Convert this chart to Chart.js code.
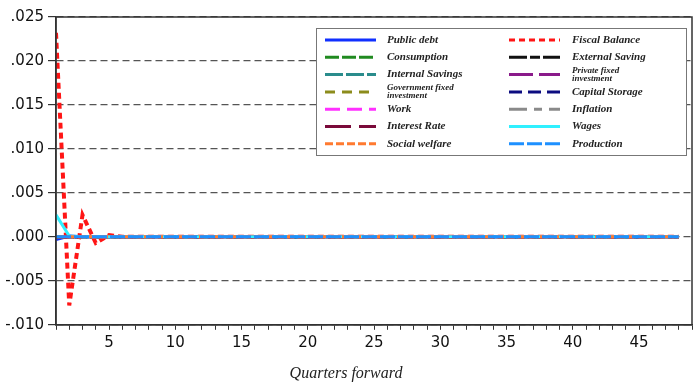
<!DOCTYPE html>
<html>
<head>
<meta charset="utf-8">
<script src="https://cdn.jsdelivr.net/npm/chart.js@4.4.0/dist/chart.umd.min.js"></script>
<style>
html, body { margin: 0; padding: 0; background: #fff; }
</style>
</head>
<body>
<canvas id="chart" width="696" height="388"></canvas>
<script>
const quarters = [1,2,3,4,5,6,7,8,9,10,11,12,13,14,15,16,17,18,19,20,21,22,23,24,
    25,26,27,28,29,30,31,32,33,34,35,36,37,38,39,40,41,42,43,44,45,46,47,48]

const publicDebt = [-0.0003,0.0001,0,0,0,0,0,0,0,0,0,0,0,0,0,0,0,0,0,0,0,0,0,0,
    0,0,0,0,0,0,0,0,0,0,0,0,0,0,0,0,0,0,0,0,0,0,0,0]
const consumption = [0,0,0,0,0,0,0,0,0,0,0,0,0,0,0,0,0,0,0,0,0,0,0,0,
    0,0,0,0,0,0,0,0,0,0,0,0,0,0,0,0,0,0,0,0,0,0,0,0]
const internalSavings = [0,0,0,0,0,0,0,0,0,0,0,0,0,0,0,0,0,0,0,0,0,0,0,0,
    0,0,0,0,0,0,0,0,0,0,0,0,0,0,0,0,0,0,0,0,0,0,0,0]
const govInvestment = [0,0,0,0,0,0,0,0,0,0,0,0,0,0,0,0,0,0,0,0,0,0,0,0,
    0,0,0,0,0,0,0,0,0,0,0,0,0,0,0,0,0,0,0,0,0,0,0,0]
const work = [0,0,0,0,0,0,0,0,0,0,0,0,0,0,0,0,0,0,0,0,0,0,0,0,
    0,0,0,0,0,0,0,0,0,0,0,0,0,0,0,0,0,0,0,0,0,0,0,0]
const interestRate = [0,0,0,0,0,0,0,0,0,0,0,0,0,0,0,0,0,0,0,0,0,0,0,0,
    0,0,0,0,0,0,0,0,0,0,0,0,0,0,0,0,0,0,0,0,0,0,0,0]
const socialWelfare = [0,0,0,0,0,0,0,0,0,0,0,0,0,0,0,0,0,0,0,0,0,0,0,0,
    0,0,0,0,0,0,0,0,0,0,0,0,0,0,0,0,0,0,0,0,0,0,0,0]
const fiscalBalance = [0.0232,-0.0078,0.0025,-0.0007,0.0002,0,0,0,0,0,0,0,0,0,0,0,0,0,0,0,0,0,0,0,
    0,0,0,0,0,0,0,0,0,0,0,0,0,0,0,0,0,0,0,0,0,0,0,0]
const externalSaving = [0,0,0,0,0,0,0,0,0,0,0,0,0,0,0,0,0,0,0,0,0,0,0,0,
    0,0,0,0,0,0,0,0,0,0,0,0,0,0,0,0,0,0,0,0,0,0,0,0]
const privateInvestment = [0,0,0,0,0,0,0,0,0,0,0,0,0,0,0,0,0,0,0,0,0,0,0,0,
    0,0,0,0,0,0,0,0,0,0,0,0,0,0,0,0,0,0,0,0,0,0,0,0]
const capitalStorage = [0,0,0,0,0,0,0,0,0,0,0,0,0,0,0,0,0,0,0,0,0,0,0,0,
    0,0,0,0,0,0,0,0,0,0,0,0,0,0,0,0,0,0,0,0,0,0,0,0]
const inflation = [0,0,0,0,0,0,0,0,0,0,0,0,0,0,0,0,0,0,0,0,0,0,0,0,
    0,0,0,0,0,0,0,0,0,0,0,0,0,0,0,0,0,0,0,0,0,0,0,0]
const wages = [0.0025,0.0001,0,0,0,0,0,0,0,0,0,0,0,0,0,0,0,0,0,0,0,0,0,0,
    0,0,0,0,0,0,0,0,0,0,0,0,0,0,0,0,0,0,0,0,0,0,0,0]
const production = [0,0,0,0,0,0,0,0,0,0,0,0,0,0,0,0,0,0,0,0,0,0,0,0,
    0,0,0,0,0,0,0,0,0,0,0,0,0,0,0,0,0,0,0,0,0,0,0,0]

function series(label, data, color, dash, width, order) {
    return {
        label: label,
        data: data,
        borderColor: color,
        backgroundColor: color,
        borderDash: dash,
        borderWidth: width,
        pointRadius: 0,
        tension: 0,
        fill: false,
        order: order
    }
}

// first 7 go in the left legend column, the rest in the right one
const datasets = [
    series("Public debt", publicDebt, "#1030ff", [], 3, 13),
    series("Consumption", consumption, "#208a20", [14, 3], 3, 12),
    series("Internal Savings", internalSavings, "#2a8c8c", [18, 3], 3, 11),
    series("Government fixed investment", govInvestment, "#8c8c1c", [10, 7], 3, 10),
    series("Work", work, "#ff30ff", [15, 7], 3, 9),
    series("Interest Rate", interestRate, "#7a0a3a", [26, 8], 3, 8),
    series("Social welfare", socialWelfare, "#ff7a30", [8, 3], 3, 1),
    series("Fiscal Balance", fiscalBalance, "#ff1515", [6, 4], 4, 3),
    series("External Saving", externalSaving, "#111111", [18, 3, 10, 3], 3, 7),
    series("Private fixed investment", privateInvestment, "#8a1a8a", [24, 6], 3, 6),
    series("Capital Storage", capitalStorage, "#0c0c80", [13, 6], 3, 5),
    series("Inflation", inflation, "#8a8a8a", [18, 7, 8, 7], 3, 4),
    series("Wages", wages, "#30f0ff", [], 3, 2),
    series("Production", production, "#1e90ff", [15, 3], 3, 0)
]

function formatTick(v) {
    let s = Number(v).toFixed(3)
    return s.replace("0.", ".")
}

const frameAndLegend = {
    id: "frameAndLegend",
    afterDraw(chart) {
        const ctx = chart.ctx
        const a = chart.chartArea
        ctx.save()
        ctx.setLineDash([])
        ctx.strokeStyle = "#333"
        ctx.lineWidth = 1.5
        ctx.strokeRect(a.left, a.top, a.right - a.left, a.bottom - a.top)

        ctx.fillStyle = "#fff"
        ctx.fillRect(316, 28, 370, 127)
        ctx.strokeStyle = "#777"
        ctx.lineWidth = 1
        ctx.strokeRect(316.5, 28.5, 370, 127)

        chart.data.datasets.forEach((ds, i) => {
            const col = i < 7 ? 0 : 1
            const row = i % 7
            const y = 40 + row * 17.3
            const x0 = col ? 509 : 325
            ctx.beginPath()
            ctx.setLineDash(ds.borderDash)
            ctx.strokeStyle = ds.borderColor
            ctx.lineWidth = 3
            ctx.moveTo(x0, y)
            ctx.lineTo(x0 + 51, y)
            ctx.stroke()

            ctx.fillStyle = "#222"
            ctx.textAlign = "left"
            ctx.textBaseline = "middle"
            const tx = col ? 572 : 387
            if (ds.label.length > 20) {
                const cut = ds.label.lastIndexOf(" ")
                ctx.font = "italic bold 9px 'Liberation Serif'"
                ctx.fillText(ds.label.substring(0, cut), tx, y - 4)
                ctx.fillText(ds.label.substring(cut + 1), tx, y + 4)
            } else {
                ctx.font = "italic bold 11px 'Liberation Serif'"
                ctx.fillText(ds.label, tx, y)
            }
        })
        ctx.restore()
    }
}

const config = {
    type: "line",
    data: {
        labels: quarters,
        datasets: datasets
    },
    options: {
        responsive: false,
        devicePixelRatio: 1,
        animation: false,
        layout: {
            padding: {top: 17, right: 4, left: 0, bottom: 0}
        },
        plugins: {
            legend: {display: false},
            tooltip: {enabled: false},
            title: {
                display: true,
                position: "bottom",
                text: "Quarters forward",
                color: "#222",
                font: {family: "'Liberation Serif'", style: "italic", size: 16, weight: "normal"},
                padding: {top: 0, bottom: 5}
            }
        },
        scales: {
            x: {
                type: "linear",
                min: 1,
                max: 49,
                afterFit: (scale) => { scale.height = 39 },
                ticks: {
                    stepSize: 1,
                    autoSkip: false,
                    maxRotation: 0,
                    padding: 4,
                    color: "#111",
                    font: {family: "'DejaVu Sans'", size: 15},
                    callback: (v) => (v % 5 === 0 && v < 49) ? String(v) : ""
                },
                grid: {
                    drawOnChartArea: false,
                    tickLength: 5,
                    tickColor: "#333",
                    color: "#333"
                },
                border: {color: "#333", width: 1.5}
            },
            y: {
                min: -0.01,
                max: 0.025,
                afterFit: (scale) => { scale.width = 56 },
                ticks: {
                    stepSize: 0.005,
                    padding: 4,
                    color: "#111",
                    font: {family: "'DejaVu Sans'", size: 15},
                    callback: (v) => formatTick(v)
                },
                grid: {
                    color: "#555",
                    lineWidth: 1.2,
                    tickBorderDash: [],
                    tickColor: "#333",
                    tickLength: 8
                },
                border: {color: "#333", width: 1.5, dash: [7, 4]}
            }
        }
    },
    plugins: [frameAndLegend]
}

new Chart(document.getElementById("chart"), config)
</script>
</body>
</html>
